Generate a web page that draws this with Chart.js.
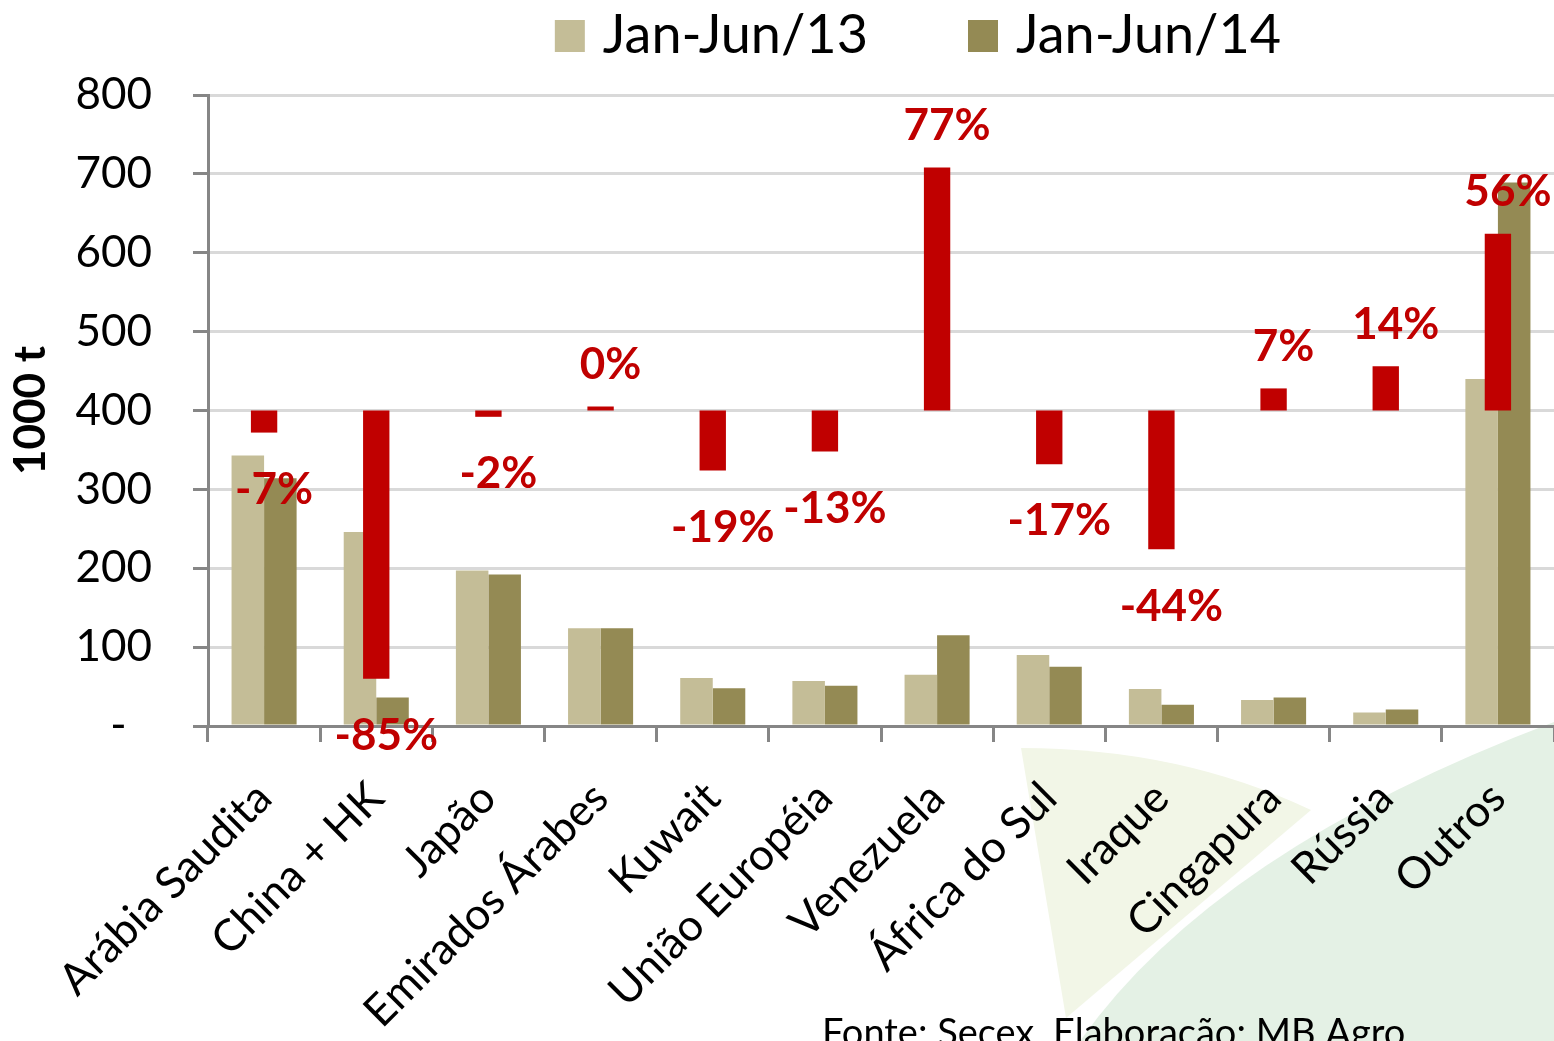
<!DOCTYPE html>
<html>
<head>
<meta charset="utf-8">
<script src="https://cdn.jsdelivr.net/npm/chart.js@4.4.1/dist/chart.umd.min.js"></script>
<style>
  html, body { margin: 0; padding: 0; background: #fff; overflow: hidden; }
  canvas { display: block; }
</style>
</head>
<body>
<canvas id="exportChart" width="1554" height="1041"></canvas>
<script>
const countries = ['Arábia Saudita', 'China + HK', 'Japão', 'Emirados Árabes', 'Kuwait', 'União Européia',
  'Venezuela', 'África do Sul', 'Iraque', 'Cingapura', 'Rússia', 'Outros'];
const jan13 = [343, 246, 197, 124, 61, 57, 65, 90, 47, 33, 17, 440];
const jan14 = [314, 36, 192, 124, 48, 51, 115, 75, 27, 36, 21, 689];
const changePct = [-7, -85, -2, 0, -19, -13, 77, -17, -44, 7, 14, 56];
const seriesNames = ['Jan-Jun/13', 'Jan-Jun/14'];
const sourceNote = 'Fonte: Secex. Elaboração: MB Agro';

// red change bars hang from the 400 line, 4 units per percent point
const CHANGE_BASE = 400;
const CHANGE_SCALE = 4;
const changeBars = changePct.map(p => [CHANGE_BASE, CHANGE_BASE + CHANGE_SCALE * p]);

const TAN = '#C4BD97', OLIVE = '#948A54', RED = '#C00000', AXIS = '#868686';
Chart.defaults.font.family = 'Lato';
Chart.defaults.color = '#000';

const decor = {
  id: 'decor',
  beforeDraw(chart) {
    const c = chart.ctx;
    c.save();
    c.fillStyle = '#fff';
    c.fillRect(0, 0, chart.width, chart.height);
    // faded logo shapes behind the axis labels
    c.fillStyle = '#F2F6E7';
    c.beginPath();
    c.moveTo(1021, 748);
    c.quadraticCurveTo(1180, 748, 1311, 810);
    c.lineTo(1066, 1018);
    c.closePath();
    c.fill();
    c.fillStyle = '#E4F1E5';
    c.beginPath();
    c.moveTo(1080, 1041);
    c.quadraticCurveTo(1215, 850, 1554, 722);
    c.lineTo(1554, 1041);
    c.closePath();
    c.fill();
    c.restore();
  },
  afterDatasetsDraw(chart) {
    const c = chart.ctx;
    const meta = chart.getDatasetMeta(0);
    c.save();
    c.font = 'bold 44px Lato';
    c.fillStyle = RED;
    c.textAlign = 'center';
    c.textBaseline = 'middle';
    meta.data.forEach((bar, i) => {
      const top = Math.min(bar.y, bar.base), bottom = Math.max(bar.y, bar.base);
      const y = changePct[i] < 0 ? bottom + 57 : top - 42;
      c.fillText(changePct[i] + '%', bar.x + 10, y);
    });
    c.restore();
  },
  afterDraw(chart) {
    const c = chart.ctx;
    c.save();
    // legend
    c.font = '54px Lato';
    c.textBaseline = 'middle';
    const widths = seriesNames.map(t => c.measureText(t).width);
    const box = 30, gap = 18, itemGap = 100;
    const total = widths.reduce((a, w) => a + box + gap + w, 0) + itemGap;
    let x = 918 - total / 2;
    [1, 2].forEach((di, k) => {
      c.fillStyle = chart.data.datasets[di].backgroundColor;
      c.fillRect(x, 20, box, 32);
      c.fillStyle = '#000';
      c.fillText(seriesNames[k], x + box + gap, 36);
      x += box + gap + widths[k] + itemGap;
    });
    // source note
    c.font = '38px Lato';
    c.textBaseline = 'alphabetic';
    c.fillText(sourceNote, 822, 1046);
    c.restore();
  }
};

new Chart(document.getElementById('exportChart'), {
  type: 'bar',
  data: {
    labels: countries,
    datasets: [
      { label: 'Variação', data: changeBars, backgroundColor: RED, grouped: false,
        categoryPercentage: 1, barPercentage: 0.235, minBarLength: 4 },
      { label: seriesNames[0], data: jan13, backgroundColor: TAN, categoryPercentage: 0.58, barPercentage: 1 },
      { label: seriesNames[1], data: jan14, backgroundColor: OLIVE, categoryPercentage: 0.58, barPercentage: 1 }
    ]
  },
  options: {
    responsive: false,
    animation: false,
    layout: { padding: { top: 95, right: 0, bottom: 0, left: 0 } },
    plugins: {
      legend: { display: false },
      tooltip: { enabled: false }
    },
    scales: {
      x: {
        grid: { offset: true, drawOnChartArea: false, tickLength: 16, tickColor: AXIS, tickWidth: 3 },
        border: { color: AXIS, width: 3 },
        ticks: { font: { size: 44 }, color: '#000', minRotation: 45, maxRotation: 45, autoSkip: false, padding: 30 },
        // long rotated labels may run past the bottom edge
        afterFit(scale) {
          scale.paddingLeft = 0;
          scale.paddingRight = 0;
          scale.height = 315;
        }
      },
      y: {
        min: 0,
        max: 800,
        grid: { color: '#D9D9D9', lineWidth: 3, tickLength: 15, tickColor: AXIS, tickWidth: 3 },
        border: { color: AXIS, width: 3 },
        ticks: {
          stepSize: 100,
          font: { size: 44 },
          color: '#000',
          padding: 41,
          callback: v => v === 0 ? '-\u2007' : v
        },
        title: { display: true, text: '1000 t', font: { size: 44, weight: 'bold' }, color: '#000',
          padding: { top: 4, bottom: 20 } },
        afterFit(scale) { scale.width = 208; }
      }
    }
  },
  plugins: [decor]
});
</script>
</body>
</html>
